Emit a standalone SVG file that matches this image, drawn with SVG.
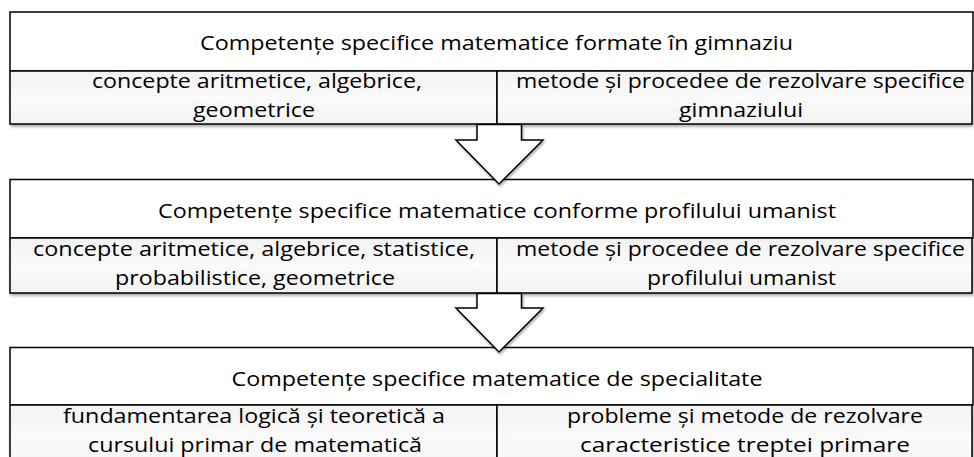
<svg xmlns="http://www.w3.org/2000/svg" width="974" height="457" viewBox="0 0 974 457">
<defs>
<linearGradient id="subFill" x1="0" y1="0" x2="0" y2="1">
<stop offset="0" stop-color="#f3f3f3"/>
<stop offset="0.5" stop-color="#fafafa"/>
<stop offset="1" stop-color="#f3f3f3"/>
</linearGradient>
<filter id="shadow" x="-5%" y="-10%" width="110%" height="130%">
<feGaussianBlur in="SourceAlpha" stdDeviation="1.5"/>
<feOffset dx="1" dy="2" result="b"/>
<feComponentTransfer><feFuncA type="linear" slope="0.35"/></feComponentTransfer>
<feMerge><feMergeNode/><feMergeNode in="SourceGraphic"/></feMerge>
</filter>
</defs>
<style>
.title{fill:#ffffff;stroke:#000;stroke-width:1.5}
.sub{fill:url(#subFill);stroke:#000;stroke-width:1.5}
.arrow{fill:#ffffff;stroke:#000;stroke-width:1.5;stroke-linejoin:miter}
text{font-family:"Open Sans","Noto Sans","Liberation Sans",sans-serif;font-size:20.5px;fill:#000;text-anchor:middle;font-variant-ligatures:none}
</style>
<rect width="974" height="457" fill="#ffffff"/>

<g id="box1">
<rect class="title" x="10" y="12" width="963" height="59"/>
<text x="496.5" y="49.5" textLength="593" lengthAdjust="spacingAndGlyphs">Competențe specifice matematice formate în gimnaziu</text>
<g filter="url(#shadow)">
<rect class="sub" x="10" y="71" width="487" height="53"/>
<rect class="sub" x="497" y="71" width="475" height="53"/>
</g>
<text x="257" y="88" textLength="330" lengthAdjust="spacingAndGlyphs">concepte aritmetice, algebrice,</text>
<text x="254" y="116.5" textLength="122" lengthAdjust="spacingAndGlyphs">geometrice</text>
<text x="740.5" y="88" textLength="449" lengthAdjust="spacingAndGlyphs">metode și procedee de rezolvare specifice</text>
<text x="741" y="116.5" textLength="124" lengthAdjust="spacingAndGlyphs">gimnaziului</text>
</g>

<g id="box2">
<rect class="title" x="10" y="179.5" width="963" height="58.5"/>
<text x="497" y="218" textLength="678" lengthAdjust="spacingAndGlyphs">Competențe specifice matematice conforme profilului umanist</text>
<g filter="url(#shadow)">
<rect class="sub" x="10" y="238" width="487" height="55"/>
<rect class="sub" x="497" y="238" width="475" height="55"/>
</g>
<text x="254" y="256" textLength="442" lengthAdjust="spacingAndGlyphs">concepte aritmetice, algebrice, statistice,</text>
<text x="255" y="284.5" textLength="280" lengthAdjust="spacingAndGlyphs">probabilistice, geometrice</text>
<text x="740.5" y="256" textLength="449" lengthAdjust="spacingAndGlyphs">metode și procedee de rezolvare specifice</text>
<text x="741.5" y="284.5" textLength="189" lengthAdjust="spacingAndGlyphs">profilului umanist</text>
</g>

<g id="box3">
<rect class="title" x="10" y="347.5" width="963" height="57.5"/>
<text x="497" y="386" textLength="531" lengthAdjust="spacingAndGlyphs">Competențe specifice matematice de specialitate</text>
<g filter="url(#shadow)">
<rect class="sub" x="10" y="405" width="487" height="70"/>
<rect class="sub" x="497" y="405" width="475" height="70"/>
</g>
<text x="254" y="423" textLength="382" lengthAdjust="spacingAndGlyphs">fundamentarea logică și teoretică a</text>
<text x="255" y="451.5" textLength="334" lengthAdjust="spacingAndGlyphs">cursului primar de matematică</text>
<text x="745" y="423" textLength="356" lengthAdjust="spacingAndGlyphs">probleme și metode de rezolvare</text>
<text x="745" y="451.5" textLength="330" lengthAdjust="spacingAndGlyphs">caracteristice treptei primare</text>
</g>

<g id="connectors" filter="url(#shadow)">
<polygon class="arrow" points="477,124.5 521.5,124.5 521.5,140 543,140 499,184 456,140 477,140"/>
<polygon class="arrow" points="477,293.5 521.5,293.5 521.5,308 543,308 499,352 456,308 477,308"/>
</g>
</svg>
